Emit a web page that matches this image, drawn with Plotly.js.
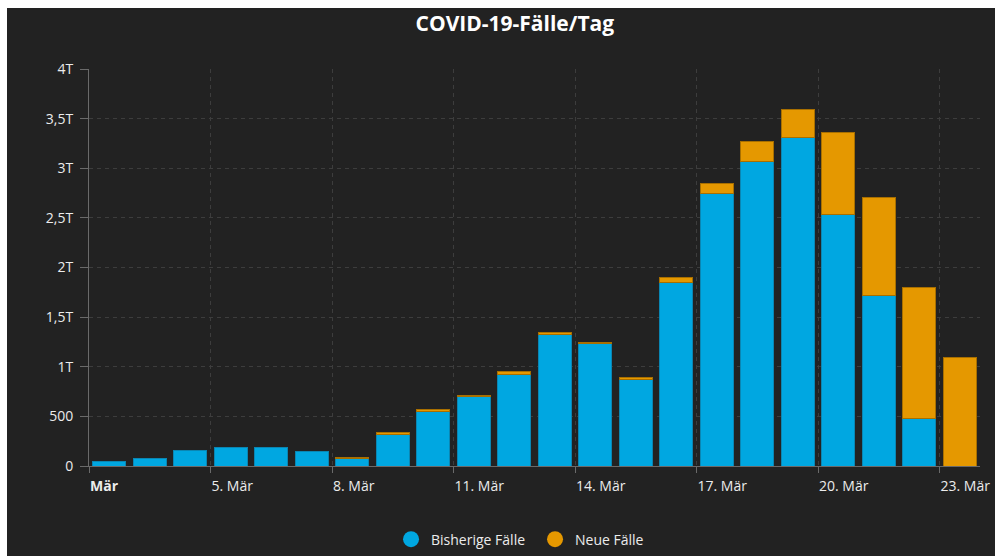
<!DOCTYPE html>
<html>
<head>
<meta charset="utf-8">
<script src="https://cdn.plot.ly/plotly-3.0.1.min.js"></script>
<style>
  html, body { margin: 0; padding: 0; background: #ffffff; }
  #chart { position: absolute; left: 7px; top: 8px; width: 988px; height: 548px; }
</style>
</head>
<body>
<div id="chart"></div>
<script>
// Days (one bar per day)
const days = ['2020-03-02','2020-03-03','2020-03-04','2020-03-05','2020-03-06','2020-03-07',
  '2020-03-08','2020-03-09','2020-03-10','2020-03-11','2020-03-12','2020-03-13','2020-03-14',
  '2020-03-15','2020-03-16','2020-03-17','2020-03-18','2020-03-19','2020-03-20','2020-03-21',
  '2020-03-22','2020-03-23'];
// Bisherige Fälle (previous cases)
const bisherige = [47, 75, 155, 182, 182, 142, 78, 317, 552, 700, 926, 1323, 1235,
  872, 1848, 2747, 3071, 3313, 2532, 1717, 481, 0];
// Neue Fälle (new cases)
const neue = [0, 0, 0, 0, 0, 0, 10, 16, 20, 10, 27, 27, 12,
  24, 54, 95, 199, 280, 832, 990, 1314, 1098];

const xTickVals = ['2020-03-02','2020-03-05','2020-03-08','2020-03-11','2020-03-14','2020-03-17','2020-03-20','2020-03-23'];
const xTickText = ['<b>Mär</b>','5. Mär','8. Mär','11. Mär','14. Mär','17. Mär','20. Mär','23. Mär'];
const yTickVals = [0, 500, 1000, 1500, 2000, 2500, 3000, 3500, 4000];
const yTickText = ['0','500','1T','1,5T','2T','2,5T','3T','3,5T','4T'];

const BLUE = '#00a7e1';
const ORANGE = '#e59800';
const DAY = 86400000;

const xs = days.map(d => d + ' 12:00');

const traces = [
  {
    type: 'bar', x: xs, y: bisherige, name: 'Bisherige Fälle',
    width: 0.815 * DAY, showlegend: false,
    marker: { color: BLUE, line: { color: '#0a86b3', width: bisherige.map(v => v > 0 ? 1 : 0) } },
    hoverinfo: 'y'
  },
  {
    type: 'bar', x: xs, y: neue, name: 'Neue Fälle',
    width: 0.815 * DAY, showlegend: false,
    marker: { color: ORANGE, line: { color: '#a86f00', width: neue.map(v => v > 0 ? 1 : 0) } },
    hoverinfo: 'y'
  },
  {
    type: 'scatter', mode: 'markers', x: [null], y: [null], name: 'Bisherige Fälle',
    marker: { color: BLUE, size: 16, symbol: 'circle' }, showlegend: true
  },
  {
    type: 'scatter', mode: 'markers', x: [null], y: [null], name: 'Neue Fälle',
    marker: { color: ORANGE, size: 16, symbol: 'circle' }, showlegend: true
  }
];

const layout = {
  width: 988, height: 548,
  paper_bgcolor: '#222222', plot_bgcolor: '#222222',
  margin: { l: 82, r: 15, t: 61.3, b: 90.3, autoexpand: false },
  barmode: 'stack',
  font: { family: 'Open Sans, sans-serif', color: '#e6e6e6', size: 14 },
  title: {
    text: '<b>COVID-19-Fälle/Tag</b>',
    font: { family: 'Open Sans, sans-serif', size: 21, color: '#ffffff' },
    x: 0.514, xanchor: 'center', yref: 'container', y: 0.972, yanchor: 'middle'
  },
  xaxis: {
    type: 'date',
    range: ['2020-03-02 00:00', '2020-03-24 00:00'],
    tickvals: xTickVals, ticktext: xTickText,
    ticklabelposition: 'outside right',
    ticklabelstandoff: 7,
    ticks: 'outside', ticklen: 6, tickcolor: '#6a6a6a',
    showline: true, linecolor: '#6a6a6a', linewidth: 1,
    showgrid: true, gridcolor: '#3d3d3d', griddash: '4px,4px',
    zeroline: false,
    tickfont: { size: 14, color: '#ececec' },
    fixedrange: true
  },
  yaxis: {
    range: [0, 4000],
    tickvals: yTickVals, ticktext: yTickText,
    ticks: 'outside', ticklen: 8, tickcolor: '#6a6a6a',
    ticklabelstandoff: 4,
    showline: true, linecolor: '#6a6a6a', linewidth: 1,
    showgrid: true, gridcolor: '#3d3d3d', griddash: '4px,4px',
    zeroline: false,
    tickfont: { size: 14, color: '#ececec' },
    fixedrange: true
  },
  legend: {
    orientation: 'h', traceorder: 'normal',
    entrywidth: 99,
    x: 0.3887, xanchor: 'left', xref: 'container',
    y: 0.03, yanchor: 'middle', yref: 'container',
    font: { size: 14, color: '#ececec' },
    bgcolor: 'rgba(0,0,0,0)'
  },
  showlegend: true
};

Plotly.newPlot('chart', traces, layout, { displayModeBar: false, staticPlot: true });
</script>
</body>
</html>
